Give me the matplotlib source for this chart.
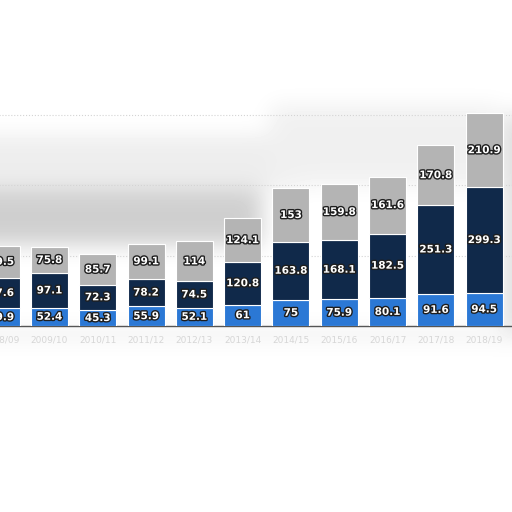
import numpy as np
import matplotlib.pyplot as plt
import matplotlib.patheffects as pe

# data
years = ['2008/09', '2009/10', '2010/11', '2011/12', '2012/13', '2013/14',
         '2014/15', '2015/16', '2016/17', '2017/18', '2018/19']
blue_vals = [49.9, 52.4, 45.3, 55.9, 52.1, 61, 75, 75.9, 80.1, 91.6, 94.5]
navy_vals = [87.6, 97.1, 72.3, 78.2, 74.5, 120.8, 163.8, 168.1, 182.5, 251.3, 299.3]
gray_vals = [89.5, 75.8, 85.7, 99.1, 114, 124.1, 153, 159.8, 161.6, 170.8, 210.9]

c_blue = '#2b78d5'
c_navy = '#10294a'
c_gray = '#b4b4b4'


def fmt(v):
    return f'{v:g}'


def blur(img, sigma):
    # separable gaussian blur, edges padded with their own values
    r = int(sigma * 3)
    k = np.exp(-0.5 * (np.arange(-r, r + 1) / sigma) ** 2)
    k /= k.sum()
    p = np.pad(img, r, mode='edge')
    p = np.apply_along_axis(lambda m: np.convolve(m, k, mode='valid'), 0, p)
    p = np.apply_along_axis(lambda m: np.convolve(m, k, mode='valid'), 1, p)
    return p


def smudge():
    # grey haze behind the chart (pixel rows/cols of a 512x512 picture)
    d = np.zeros((512, 512))
    d[135:190, 0:300] = 0.07
    d[105:185, 270:500] = 0.06
    d[190:245, 0:262] = 0.19
    d[330:338, 0:512] = 0.10
    d[115:328, 505:512] = 0.14
    d = blur(d, 11)
    return 1 - d


def main():
    fig = plt.figure(figsize=(5.12, 5.12), dpi=100)
    bg = fig.add_axes([0, 0, 1, 1])
    bg.imshow(smudge(), cmap='gray', vmin=0, vmax=1, aspect='auto',
              interpolation='bilinear')
    bg.axis('off')

    ax = fig.add_axes([-0.0448, 0.3633, 1.047, 0.619])
    ax.set_facecolor('none')

    x = np.arange(len(years))
    w = 0.766
    b = np.array(blue_vals)
    n = np.array(navy_vals)
    g = np.array(gray_vals)

    ax.bar(x, b, w, color=c_blue, edgecolor='white', linewidth=0.8, zorder=3)
    ax.bar(x, n, w, bottom=b, color=c_navy, edgecolor='white', linewidth=0.8, zorder=3)
    ax.bar(x, g, w, bottom=b + n, color=c_gray, edgecolor='white', linewidth=0.8, zorder=3)

    outline = [pe.withStroke(linewidth=2, foreground='#1e1e1e')]
    for i in x:
        for bot, v in [(0, b[i]), (b[i], n[i]), (b[i] + n[i], g[i])]:
            ax.text(i, bot + v / 2, fmt(v), ha='center', va='center', color='white',
                    fontsize=7.5, fontweight='bold', path_effects=outline, zorder=5)

    ax.set_xlim(-0.5, 10.6)
    ax.set_ylim(0, 900)
    ax.set_yticks([200, 400, 600])
    ax.yaxis.grid(True, color='#d4d4d4', linestyle=':', linewidth=0.8, zorder=0)
    ax.tick_params(left=False, labelleft=False, bottom=False)
    ax.set_xticks(x)
    ax.set_xticklabels(years, fontsize=6.5, color='#d6d6d6')
    for s in ['top', 'right', 'left']:
        ax.spines[s].set_visible(False)
    ax.spines['bottom'].set_color('#555555')
    ax.spines['bottom'].set_linewidth(1.0)

    fig.savefig('out.png', dpi=100, facecolor='white')


if __name__ == '__main__':
    main()
